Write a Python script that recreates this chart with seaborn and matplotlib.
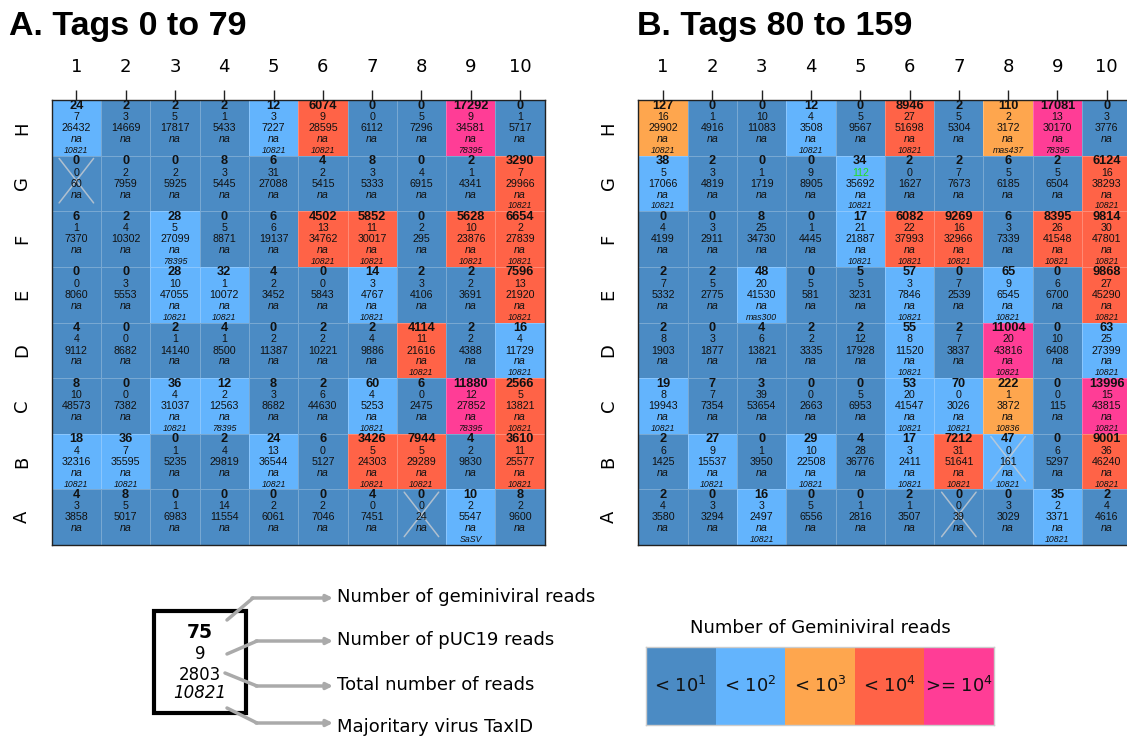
import numpy as np
import pandas as pd
import seaborn as sns
import matplotlib
matplotlib.use("Agg")
import matplotlib.pyplot as plt
from matplotlib.colors import ListedColormap
from matplotlib.patches import Rectangle

# ---------------- data ----------------
rows = ["H", "G", "F", "E", "D", "C", "B", "A"]
cols = [str(i) for i in range(1, 11)]

# Panel A (tags 0 to 79)
a_gem = [
    [24, 2, 2, 2, 12, 6074, 0, 0, 17292, 0],
    [0, 0, 0, 8, 6, 4, 8, 0, 2, 3290],
    [6, 2, 28, 0, 6, 4502, 5852, 0, 5628, 6654],
    [0, 0, 28, 32, 4, 0, 14, 2, 2, 7596],
    [4, 0, 2, 4, 0, 2, 2, 4114, 2, 16],
    [8, 0, 36, 12, 8, 2, 60, 6, 11880, 2566],
    [18, 36, 0, 2, 24, 6, 3426, 7944, 4, 3610],
    [4, 8, 0, 0, 0, 0, 4, 0, 10, 8],
]
a_puc = [
    [7, 3, 5, 1, 3, 9, 0, 5, 9, 1],
    [0, 2, 2, 3, 31, 2, 3, 4, 1, 7],
    [1, 4, 5, 5, 6, 13, 11, 2, 10, 2],
    [0, 3, 10, 1, 2, 0, 3, 3, 2, 13],
    [4, 0, 1, 1, 2, 2, 4, 11, 2, 4],
    [10, 0, 4, 2, 3, 6, 4, 0, 12, 5],
    [4, 7, 1, 4, 13, 0, 5, 5, 2, 11],
    [3, 5, 1, 14, 2, 2, 0, 0, 2, 2],
]
a_total = [
    [26432, 14669, 17817, 5433, 7227, 28595, 6112, 7296, 34581, 5717],
    [60, 7959, 5925, 5445, 27088, 5415, 5333, 6915, 4341, 29966],
    [7370, 10302, 27099, 8871, 19137, 34762, 30017, 295, 23876, 27839],
    [8060, 5553, 47055, 10072, 3452, 5843, 4767, 4106, 3691, 21920],
    [9112, 8682, 14140, 8500, 11387, 10221, 9886, 21616, 4388, 11729],
    [48573, 7382, 31037, 12563, 8682, 44630, 5253, 2475, 27852, 13821],
    [32316, 35595, 5235, 29819, 36544, 5127, 24303, 29289, 9830, 25577],
    [3858, 5017, 6983, 11554, 6061, 7046, 7451, 24, 5547, 9600],
]
a_taxid = [
    ["10821", "", "", "", "10821", "10821", "", "", "78395", ""],
    ["", "", "", "", "", "", "", "", "", "10821"],
    ["", "", "78395", "", "", "10821", "10821", "", "10821", "10821"],
    ["", "", "10821", "10821", "", "", "10821", "", "", "10821"],
    ["", "", "", "", "", "", "", "10821", "", "10821"],
    ["", "", "10821", "78395", "", "", "10821", "", "78395", "10821"],
    ["10821", "10821", "", "", "10821", "", "10821", "10821", "", "10821"],
    ["", "", "", "", "", "", "", "", "SaSV", ""],
]
a_crossed = [("G", "1"), ("A", "8")]
a_green = []

# Panel B (tags 80 to 159)
b_gem = [
    [127, 0, 0, 12, 0, 8946, 2, 110, 17081, 0],
    [38, 2, 0, 0, 34, 2, 2, 6, 2, 6124],
    [0, 0, 8, 0, 17, 6082, 9269, 6, 8395, 9814],
    [2, 2, 48, 0, 5, 57, 0, 65, 0, 9868],
    [2, 0, 4, 2, 2, 55, 2, 11004, 0, 63],
    [19, 7, 3, 0, 0, 53, 70, 222, 0, 13996],
    [2, 27, 0, 29, 4, 17, 7212, 47, 0, 9001],
    [2, 0, 16, 0, 0, 2, 0, 0, 35, 2],
]
b_puc = [
    [16, 1, 10, 4, 5, 27, 5, 2, 13, 3],
    [5, 3, 1, 9, 112, 0, 7, 5, 5, 16],
    [4, 3, 25, 1, 21, 22, 16, 3, 26, 30],
    [7, 5, 20, 5, 5, 3, 7, 9, 6, 27],
    [8, 3, 6, 2, 12, 8, 7, 20, 10, 25],
    [8, 7, 39, 0, 5, 20, 0, 1, 0, 15],
    [6, 9, 1, 10, 28, 3, 31, 0, 6, 36],
    [4, 3, 3, 5, 1, 1, 0, 3, 2, 4],
]
b_total = [
    [29902, 4916, 11083, 3508, 9567, 51698, 5304, 3172, 30170, 3776],
    [17066, 4819, 1719, 8905, 35692, 1627, 7673, 6185, 6504, 38293],
    [4199, 2911, 34730, 4445, 21887, 37993, 32966, 7339, 41548, 47801],
    [5332, 2775, 41530, 581, 3231, 7846, 2539, 6545, 6700, 45290],
    [1903, 1877, 13821, 3335, 17928, 11520, 3837, 43816, 6408, 27399],
    [19943, 7354, 53654, 2663, 6953, 41547, 3026, 3872, 115, 43815],
    [1425, 15537, 3950, 22508, 36776, 2411, 51641, 161, 5297, 46240],
    [3580, 3294, 2497, 6556, 2816, 3507, 39, 3029, 3371, 4616],
]
b_taxid = [
    ["10821", "", "", "10821", "", "10821", "", "mas437", "78395", ""],
    ["10821", "", "", "", "10821", "", "", "", "", "10821"],
    ["", "", "", "", "10821", "10821", "10821", "", "10821", "10821"],
    ["", "", "mas300", "", "", "10821", "", "10821", "", "10821"],
    ["", "", "", "", "", "10821", "", "10821", "", "10821"],
    ["10821", "", "", "", "", "10821", "10821", "10836", "", "10821"],
    ["", "10821", "", "10821", "", "10821", "10821", "10821", "", "10821"],
    ["", "", "10821", "", "", "", "", "", "10821", ""],
]
b_crossed = [("B", "8"), ("A", "7")]
b_green = [("G", "5")]

bins = [10, 100, 1000, 10000]
palette = ["#4b8bc4", "#63b4fd", "#fea64e", "#ff6347", "#ff3d96"]
legend_labels = [r"< 10$^1$", r"< 10$^2$", r"< 10$^3$", r"< 10$^4$", r">= 10$^4$"]
key_values = ["75", "9", "2803", "10821"]
key_labels = ["Number of geminiviral reads", "Number of pUC19 reads",
              "Total number of reads", "Majoritary virus TaxID"]

# ---------------- figure ----------------
sns.set_style("white")
plt.rcParams["font.family"] = ["DejaVu Sans"]
plt.rcParams["text.color"] = "black"
plt.rcParams["xtick.color"] = "black"
plt.rcParams["ytick.color"] = "black"
plt.rcParams["xtick.labelcolor"] = "black"
plt.rcParams["ytick.labelcolor"] = "black"
cellfont = ["Liberation Sans", "DejaVu Sans"]
cmap = ListedColormap(palette)
W, H = 1127, 738
fig = plt.figure(figsize=(W / 100, H / 100), dpi=100)


def fax(l, t, r, b):
    return fig.add_axes([l / W, 1 - b / H, (r - l) / W, (b - t) / H])


def draw_panel(ax, gem, puc, tot, tax, crossed, green):
    gem = np.array(gem)
    cat = np.digitize(gem, bins)
    df = pd.DataFrame(cat, index=rows, columns=cols)
    sns.heatmap(df, ax=ax, cmap=cmap, vmin=-0.5, vmax=4.5, cbar=False,
                linewidths=0.7, linecolor=(1, 1, 1, 0.25))
    tc = "#111111"
    for i in range(len(rows)):
        for j in range(len(cols)):
            x = j + 0.5
            ax.text(x, i + 0.10, str(gem[i, j]), ha="center", va="center",
                    fontsize=9.2, fontweight="bold", family=cellfont, color=tc)
            pc = "#22e022" if (rows[i], cols[j]) in green else tc
            ax.text(x, i + 0.305, str(puc[i][j]), ha="center", va="center",
                    fontsize=7.7, family=cellfont, color=pc)
            ax.text(x, i + 0.505, str(tot[i][j]), ha="center", va="center",
                    fontsize=7.7, family=cellfont, color=tc)
            ax.text(x, i + 0.70, "na", ha="center", va="center",
                    fontsize=7.7, style="italic", family=cellfont, color=tc)
            if tax[i][j]:
                ax.text(x, i + 0.905, tax[i][j], ha="center", va="center",
                        fontsize=6.3, style="italic", family=cellfont, color=tc)
    for r, c in crossed:
        i = rows.index(r)
        j = cols.index(c)
        ax.plot([j + 0.15, j + 0.85], [i + 0.05, i + 0.85], color="#c9cdd2", lw=1.1, alpha=0.8)
        ax.plot([j + 0.15, j + 0.85], [i + 0.85, i + 0.05], color="#c9cdd2", lw=1.1, alpha=0.8)
    ax.xaxis.tick_top()
    ax.set_xticks(np.arange(len(cols)) + 0.5)
    ax.set_xticklabels(cols, rotation=0, fontsize=13)
    ax.set_yticks(np.arange(len(rows)) + 0.5)
    ax.set_yticklabels(rows, rotation=90, va="center", fontsize=13)
    ax.tick_params(axis="x", length=7, width=1, color="#222222", pad=10)
    ax.tick_params(axis="y", length=7, width=1, color="#222222", pad=8)
    ax.set_xlabel("")
    ax.set_ylabel("")
    for s in ax.spines.values():
        s.set_visible(True)
        s.set_color("#222222")
        s.set_linewidth(1)


ax_a = fax(51.7, 100, 544.7, 545)
ax_b = fax(638.4, 100, 1131.4, 545)
draw_panel(ax_a, a_gem, a_puc, a_total, a_taxid, a_crossed, a_green)
draw_panel(ax_b, b_gem, b_puc, b_total, b_taxid, b_crossed, b_green)

# colour legend
leg = fax(646, 647, 994, 725)
sns.heatmap(np.array([[0, 1, 2, 3, 4]]), ax=leg, cmap=cmap, vmin=-0.5, vmax=4.5,
            cbar=False, annot=np.array([legend_labels]), fmt="",
            annot_kws=dict(fontsize=13, color="#111111"))
leg.set_xticks([])
leg.set_yticks([])
for s in leg.spines.values():
    s.set_visible(True)
    s.set_color("#cccccc")
    s.set_linewidth(1)

# overlay in pixel coordinates
ov = fig.add_axes([0, 0, 1, 1], zorder=-1)
ov.set_xlim(0, W)
ov.set_ylim(H, 0)
ov.axis("off")

ov.text(9, 26, "A. Tags 0 to 79", fontsize=24.5, fontweight="bold",
        family=cellfont, va="center", ha="left")
ov.text(637, 26, "B. Tags 80 to 159", fontsize=24.5, fontweight="bold",
        family=cellfont, va="center", ha="left")
ov.text(820, 628, "Number of Geminiviral reads", fontsize=13, ha="center", va="center")

ov.add_patch(Rectangle((154, 611), 92, 102, fill=False, lw=3, edgecolor="black"))
ov.text(200, 633, key_values[0], fontsize=13.5, fontweight="bold", ha="center", va="center")
ov.text(200, 654, key_values[1], fontsize=12, ha="center", va="center")
ov.text(200, 675, key_values[2], fontsize=12, ha="center", va="center")
ov.text(200, 693, key_values[3], fontsize=12, style="italic", ha="center", va="center")

starts = [(227, 620), (227, 654), (225, 673), (227, 708)]
bends = [(253, 598), (257, 641), (257, 686), (257, 723)]
ly = [597, 640, 685, 727]
acol = "#aaaaaa"
for (x0, y0), (x1, y1), lab, yy in zip(starts, bends, key_labels, ly):
    ov.plot([x0, x1], [y0, y1], color=acol, lw=2.5, solid_capstyle="round")
    ov.annotate("", xy=(333, y1), xytext=(x1 - 1, y1),
                arrowprops=dict(arrowstyle="-|>", color=acol, lw=2.5,
                                mutation_scale=9, shrinkA=0, shrinkB=0))
    ov.text(337, yy, lab, fontsize=13, ha="left", va="center")

fig.savefig("out.png", dpi=100)
